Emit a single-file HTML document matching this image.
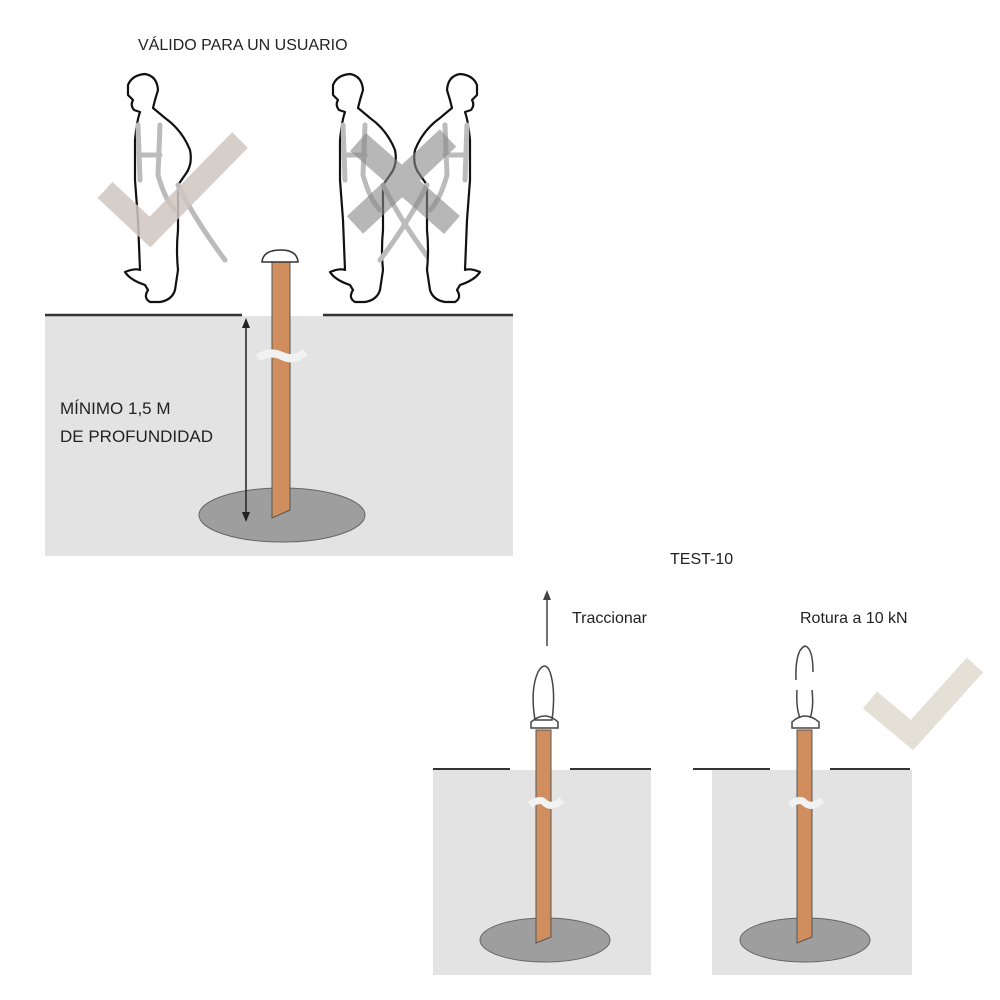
<!DOCTYPE html>
<html><head><meta charset="utf-8"><style>
html,body{margin:0;padding:0;background:#fff}
svg{display:block}
text{font-family:"Liberation Sans",sans-serif;fill:#222}
</style></head><body>
<svg width="1000" height="1000" viewBox="0 0 1000 1000" xmlns="http://www.w3.org/2000/svg">
<defs>
<path id="man" d="M128,95 L128,85 Q132,75 145,74 Q157,76 158,90 L155,100 L153,108 Q158,112 165,118 Q182,130 190,150 Q193,165 185,175 L178,185 L178,230 Q176,250 178,270 L175,290 Q172,300 160,302 L150,302 Q143,298 148,290 L145,285 Q130,280 125,272 Q135,268 140,270 L138,220 L135,180 L135,140 Q137,120 140,112 L134,110 Q130,105 133,100 Z" fill="#fff" stroke="#111" stroke-width="2.2" stroke-linejoin="round"/>
<g id="harness" fill="none" stroke="#bbb" stroke-width="5" stroke-linecap="round">
<path d="M138,125 L140,180 M160,125 L158,175 Q165,200 175,210 M140,155 L160,155 M178,185 Q195,220 225,260"/>
</g>
</defs>
<text x="138" y="50" font-size="16">VÁLIDO PARA UN USUARIO</text>

<!-- persons -->
<use href="#man"/><use href="#harness"/>
<polyline points="105,190 150,232 240,140" fill="none" stroke="#cfc5c0" stroke-width="22" opacity="0.85"/>
<g transform="translate(205,0)"><use href="#man"/><use href="#harness"/></g>
<g transform="translate(605,0) scale(-1,1)"><use href="#man"/><use href="#harness"/></g>
<g stroke="#888" stroke-width="24" opacity="0.6">
<line x1="358" y1="142" x2="452" y2="225"/><line x1="355" y1="225" x2="448" y2="138"/>
</g>

<!-- top ground box -->
<rect x="45" y="316" width="468" height="240" fill="#e3e3e3"/>
<line x1="45" y1="315" x2="242" y2="315" stroke="#333" stroke-width="2.5"/>
<line x1="323" y1="315" x2="513" y2="315" stroke="#333" stroke-width="2.5"/>
<ellipse cx="282" cy="515" rx="83" ry="27" fill="#9e9e9e" stroke="#666"/>
<path d="M272,262 L290,262 L290,510 L272,518 Z" fill="#d08e5e" stroke="#555" stroke-width="1"/>
<path d="M262,262 Q263,250 281,250 Q297,250 298,262 Z" fill="#fff" stroke="#333" stroke-width="1.5"/>
<path d="M258,358 Q270,350 282,356 Q294,362 305,352" stroke="#f2f2f2" stroke-width="8" fill="none"/>
<line x1="246" y1="322" x2="246" y2="518" stroke="#222" stroke-width="1.5"/>
<polygon points="246,318 242,328 250,328" fill="#222"/><polygon points="246,522 242,512 250,512" fill="#222"/>
<text x="60" y="414" font-size="17">MÍNIMO 1,5 M</text>
<text x="60" y="442" font-size="17">DE PROFUNDIDAD</text>

<text x="670" y="564" font-size="16">TEST-10</text>
<text x="572" y="623" font-size="16">Traccionar</text>
<text x="800" y="623" font-size="16">Rotura a 10 kN</text>
<line x1="547" y1="646" x2="547" y2="598" stroke="#444" stroke-width="1.5"/>
<polygon points="547,590 543,600 551,600" fill="#444"/>

<polyline points="870,700 912,735 975,665" fill="none" stroke="#e4e0d6" stroke-width="22"/>

<!-- bottom boxes -->
<rect x="433" y="770" width="218" height="205" fill="#e3e3e3"/>
<line x1="433" y1="769" x2="510" y2="769" stroke="#333" stroke-width="2"/>
<line x1="570" y1="769" x2="651" y2="769" stroke="#333" stroke-width="2"/>
<ellipse cx="545" cy="940" rx="65" ry="22" fill="#9e9e9e" stroke="#666"/>
<path d="M536,730 L551,730 L551,937 L536,943 Z" fill="#d08e5e" stroke="#555"/>
<path d="M531,728 L531,722 Q545,710 558,722 L558,728 Z" fill="#fff" stroke="#444" stroke-width="1.5"/>
<path d="M535,720 Q530,690 538,672 Q545,660 550,672 Q556,690 552,720 Z" fill="none" stroke="#444" stroke-width="1.5"/>
<path d="M530,805 Q540,797 545,803 Q552,809 562,800" stroke="#f2f2f2" stroke-width="7" fill="none"/>

<rect x="712" y="770" width="200" height="205" fill="#e3e3e3"/>
<line x1="693" y1="769" x2="770" y2="769" stroke="#333" stroke-width="2"/>
<line x1="830" y1="769" x2="910" y2="769" stroke="#333" stroke-width="2"/>
<ellipse cx="805" cy="940" rx="65" ry="22" fill="#9e9e9e" stroke="#666"/>
<path d="M797,730 L812,730 L812,937 L797,943 Z" fill="#d08e5e" stroke="#555"/>
<path d="M792,728 L792,722 Q805,710 819,722 L819,728 Z" fill="#fff" stroke="#444" stroke-width="1.5"/>
<path d="M796,680 Q795,650 805,646 Q813,648 813,672 M812,690 Q814,708 810,718 M797,690 Q796,708 800,718" fill="none" stroke="#444" stroke-width="1.5"/>
<path d="M790,805 Q800,797 805,803 Q812,809 822,800" stroke="#f2f2f2" stroke-width="7" fill="none"/>
</svg>
</body></html>
